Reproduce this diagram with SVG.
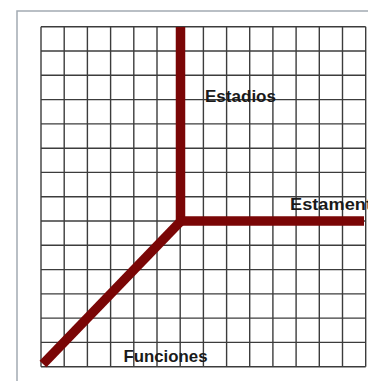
<svg xmlns="http://www.w3.org/2000/svg" width="368" height="381" viewBox="0 0 368 381">
  <style>
    .frame { fill: none; stroke: #a3abb3; stroke-width: 1.5; }
    .grid line { stroke: #3c3c3c; stroke-width: 1.4; }
    .axis { stroke: #7a0606; stroke-width: 9.5; fill: none; }
    .lbl { font-family: "Liberation Sans", Arial, sans-serif; font-weight: bold; font-size: 17px; fill: #1a1a1a; }
  </style>
  <rect width="368" height="381" fill="#ffffff"/>
  <path class="frame" d="M17,390 L17,11 L380,11"/>
  <g class="grid">
    <line x1="41" y1="26.7" x2="41" y2="366.7"/>
    <line x1="64.2" y1="26.7" x2="64.2" y2="366.7"/>
    <line x1="87.4" y1="26.7" x2="87.4" y2="366.7"/>
    <line x1="110.6" y1="26.7" x2="110.6" y2="366.7"/>
    <line x1="133.8" y1="26.7" x2="133.8" y2="366.7"/>
    <line x1="157" y1="26.7" x2="157" y2="366.7"/>
    <line x1="180.2" y1="26.7" x2="180.2" y2="366.7"/>
    <line x1="203.4" y1="26.7" x2="203.4" y2="366.7"/>
    <line x1="226.6" y1="26.7" x2="226.6" y2="366.7"/>
    <line x1="249.7" y1="26.7" x2="249.7" y2="366.7"/>
    <line x1="272.9" y1="26.7" x2="272.9" y2="366.7"/>
    <line x1="296.1" y1="26.7" x2="296.1" y2="366.7"/>
    <line x1="319.3" y1="26.7" x2="319.3" y2="366.7"/>
    <line x1="342.5" y1="26.7" x2="342.5" y2="366.7"/>
    <line x1="365.7" y1="26.7" x2="365.7" y2="366.7"/>
    <line x1="41" y1="26.7" x2="365.7" y2="26.7"/>
    <line x1="41" y1="51" x2="365.7" y2="51"/>
    <line x1="41" y1="75.3" x2="365.7" y2="75.3"/>
    <line x1="41" y1="99.6" x2="365.7" y2="99.6"/>
    <line x1="41" y1="123.9" x2="365.7" y2="123.9"/>
    <line x1="41" y1="148.2" x2="365.7" y2="148.2"/>
    <line x1="41" y1="172.4" x2="365.7" y2="172.4"/>
    <line x1="41" y1="196.7" x2="365.7" y2="196.7"/>
    <line x1="41" y1="221" x2="365.7" y2="221"/>
    <line x1="41" y1="245.3" x2="365.7" y2="245.3"/>
    <line x1="41" y1="269.6" x2="365.7" y2="269.6"/>
    <line x1="41" y1="293.9" x2="365.7" y2="293.9"/>
    <line x1="41" y1="318.1" x2="365.7" y2="318.1"/>
    <line x1="41" y1="342.4" x2="365.7" y2="342.4"/>
    <line x1="41" y1="366.7" x2="365.7" y2="366.7"/>
  </g>
  <g id="connectors">
    <line id="axis-estadios" class="axis" x1="180.5" y1="27" x2="180.5" y2="225"/>
    <line id="axis-estamentos" class="axis" x1="176" y1="221" x2="364" y2="221"/>
    <line id="axis-funciones" class="axis" x1="181" y1="221" x2="43" y2="364"/>
  </g>
  <g id="estadios"><text class="lbl" x="205" y="101.5" textLength="71" lengthAdjust="spacingAndGlyphs">Estadios</text></g>
  <g id="estamentos"><text class="lbl" x="290" y="209.5" textLength="82" lengthAdjust="spacingAndGlyphs">Estament</text></g>
  <g id="funciones"><text class="lbl" x="123.5" y="361.5" textLength="84" lengthAdjust="spacingAndGlyphs">Funciones</text></g>
</svg>
